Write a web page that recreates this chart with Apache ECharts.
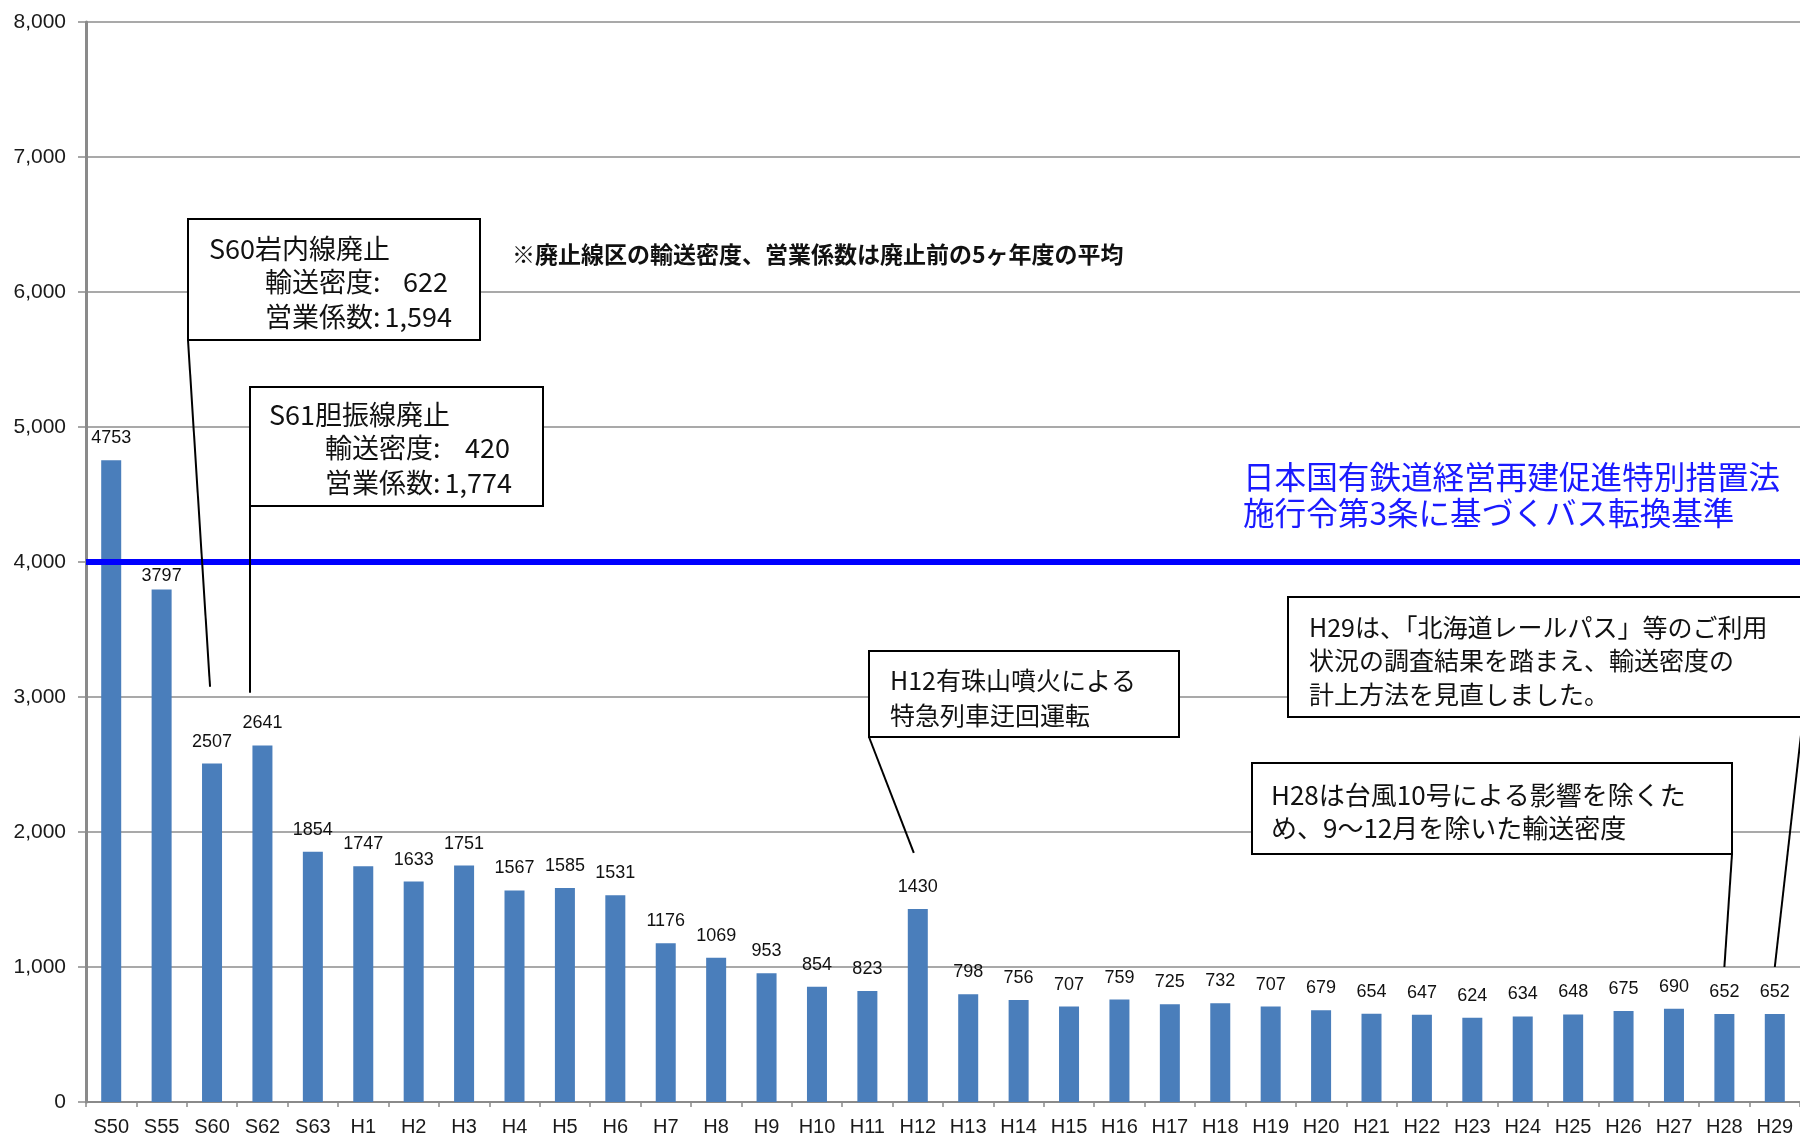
<!DOCTYPE html>
<html>
<head>
<meta charset="utf-8">
<script src="https://cdn.jsdelivr.net/npm/echarts@6/dist/echarts.min.js"></script>
<style>
html,body{margin:0;padding:0;background:#fff;}
#c{width:1800px;height:1138px;}
</style>
</head>
<body>
<div id="c"></div>
<script>
// ---- data ----
var categories = ['S50','S55','S60','S62','S63','H1','H2','H3','H4','H5','H6','H7','H8','H9','H10','H11','H12','H13','H14','H15','H16','H17','H18','H19','H20','H21','H22','H23','H24','H25','H26','H27','H28','H29'];
var density = [4753,3797,2507,2641,1854,1747,1633,1751,1567,1585,1531,1176,1069,953,854,823,1430,798,756,707,759,725,732,707,679,654,647,624,634,648,675,690,652,652];
var yTicks = [0,1000,2000,3000,4000,5000,6000,7000,8000];
var busStandard = 4000;
var noteText = '※廃止線区の輸送密度、営業係数は廃止前の5ヶ年度の平均';
var standardText = ['日本国有鉄道経営再建促進特別措置法','施行令第3条に基づくバス転換基準'];
var boxS60 = {title:'S60岩内線廃止', d:'622', k:'1,594'};
var boxS61 = {title:'S61胆振線廃止', d:'420', k:'1,774'};
var boxH12 = ['H12有珠山噴火による','特急列車迂回運転'];
var boxH29 = ['H29は、「北海道レールパス」等のご利用','状況の調査結果を踏まえ、輸送密度の','計上方法を見直しました。'];
var boxH28 = ['H28は台風10号による影響を除くた','め、9～12月を除いた輸送密度'];

var NUM = '"Liberation Sans", Arial, sans-serif';
var JP = '"Noto Sans CJK JP", sans-serif';

function comma(v){return String(v).replace(/\B(?=(\d{3})+(?!\d))/g, ',');}

// S55's label sits just under the blue standard line in the original
var barData = density.map(function(v, i){
  if (categories[i] === 'S55') return {value:v, label:{distance:4}};
  return v;
});

var chart = echarts.init(document.getElementById('c'), null, {renderer:'canvas'});
chart.setOption({
  animation:false,
  backgroundColor:'#fff',
  grid:{left:86, right:-2, top:22, bottom:36, containLabel:false},
  xAxis:{
    type:'category', data:categories,
    axisLine:{show:true, lineStyle:{color:'#8a8a8a', width:2}},
    axisTick:{show:true, length:5, alignWithLabel:false, lineStyle:{color:'#8a8a8a', width:1.5}},
    axisLabel:{color:'#1a1a1a', fontSize:20, fontFamily:NUM, margin:15, interval:0}
  },
  yAxis:{
    type:'value', min:yTicks[0], max:yTicks[yTicks.length-1], interval:1000,
    axisLine:{show:true, lineStyle:{color:'#8a8a8a', width:3}},
    axisTick:{show:true, length:8, inside:false, lineStyle:{color:'#8a8a8a', width:1.5}},
    axisLabel:{color:'#1a1a1a', fontSize:21, fontFamily:NUM, margin:20, formatter:function(v){return comma(v);}},
    splitLine:{show:true, lineStyle:{color:'#8c8c8c', width:1.5}}
  },
  series:[{
    type:'bar', data:barData, barWidth:20,
    itemStyle:{color:'#4a7ebb'},
    label:{show:true, position:'top', distance:13, color:'#111', fontSize:18, fontFamily:NUM},
    markLine:{
      silent:true, symbol:['none','none'],
      label:{show:false},
      lineStyle:{color:'#0000ff', width:6, type:'solid'},
      data:[{yAxis:busStandard}]
    }
  }]
});

function px(cat, val){
  return chart.convertToPixel({gridIndex:0}, [categories.indexOf(cat), val]);
}
function txt(s, x, y, size, opts){
  opts = opts || {};
  return {type:'text', z:20, style:{text:s, x:x, y:y, fill:opts.fill||'#111',
    font:(opts.weight||'normal')+' '+size+'px '+(opts.family||JP),
    textAlign:opts.align||'left', textVerticalAlign:'middle', verticalAlign:'middle'}};
}
function box(x,y,w,h){
  return {type:'rect', z:15, shape:{x:x,y:y,width:w,height:h}, style:{fill:'#fff', stroke:'#000', lineWidth:2}};
}
function line(p1,p2){
  return {type:'line', z:16, shape:{x1:p1[0],y1:p1[1],x2:p2[0],y2:p2[1]}, style:{stroke:'#000', lineWidth:2}};
}

var pS60 = px('S60', 3076);
var pS62 = px('S62', 3032);
var pH12 = px('H12', 1846);
var pH28 = px('H28', 1000);
var pH29 = px('H29', 1000);

var g = [];
// leaders
g.push(line([188,340], [pS60[0]-2, pS60[1]]));
g.push(line([250,506], [250, pS62[1]]));
g.push(line([869,737], [pH12[0]-4, pH12[1]]));
g.push(line([1732,854], [pH28[0], pH28[1]]));
g.push(line([1803,717], [pH29[0], pH29[1]]));
// box S60
g.push(box(188,219,292,121));
g.push(txt(boxS60.title, 209, 249, 27));
g.push(txt('輸送密度:', 265, 282, 27));
g.push(txt(boxS60.d, 448, 282, 27, {align:'right'}));
g.push(txt('営業係数:', 265, 317, 27));
g.push(txt(boxS60.k, 452, 317, 27, {align:'right'}));
// box S61
g.push(box(250,387,293,119));
g.push(txt(boxS61.title, 269, 415, 27));
g.push(txt('輸送密度:', 325, 448, 27));
g.push(txt(boxS61.d, 510, 448, 27, {align:'right'}));
g.push(txt('営業係数:', 325, 483, 27));
g.push(txt(boxS61.k, 512, 483, 27, {align:'right'}));
// note
g.push(txt(noteText, 512, 254, 23, {weight:'bold'}));
// standard text
g.push(txt(standardText[0], 1243, 477, 31.6, {fill:'#1a1aff'}));
g.push(txt(standardText[1], 1243, 513, 31.6, {fill:'#1a1aff'}));
// box H12
g.push(box(869,651,310,86));
g.push(txt(boxH12[0], 890, 680, 25));
g.push(txt(boxH12[1], 890, 715, 25));
// box H29
g.push(box(1288,597,530,120));
g.push(txt(boxH29[0], 1309, 627, 25));
g.push(txt(boxH29[1], 1309, 660, 25));
g.push(txt(boxH29[2], 1309, 694, 25));
// box H28
g.push(box(1252,763,480,91));
g.push(txt(boxH28[0], 1271, 795, 26));
g.push(txt(boxH28[1], 1271, 828, 26));

chart.setOption({graphic:{elements:g}});
</script>
</body>
</html>
